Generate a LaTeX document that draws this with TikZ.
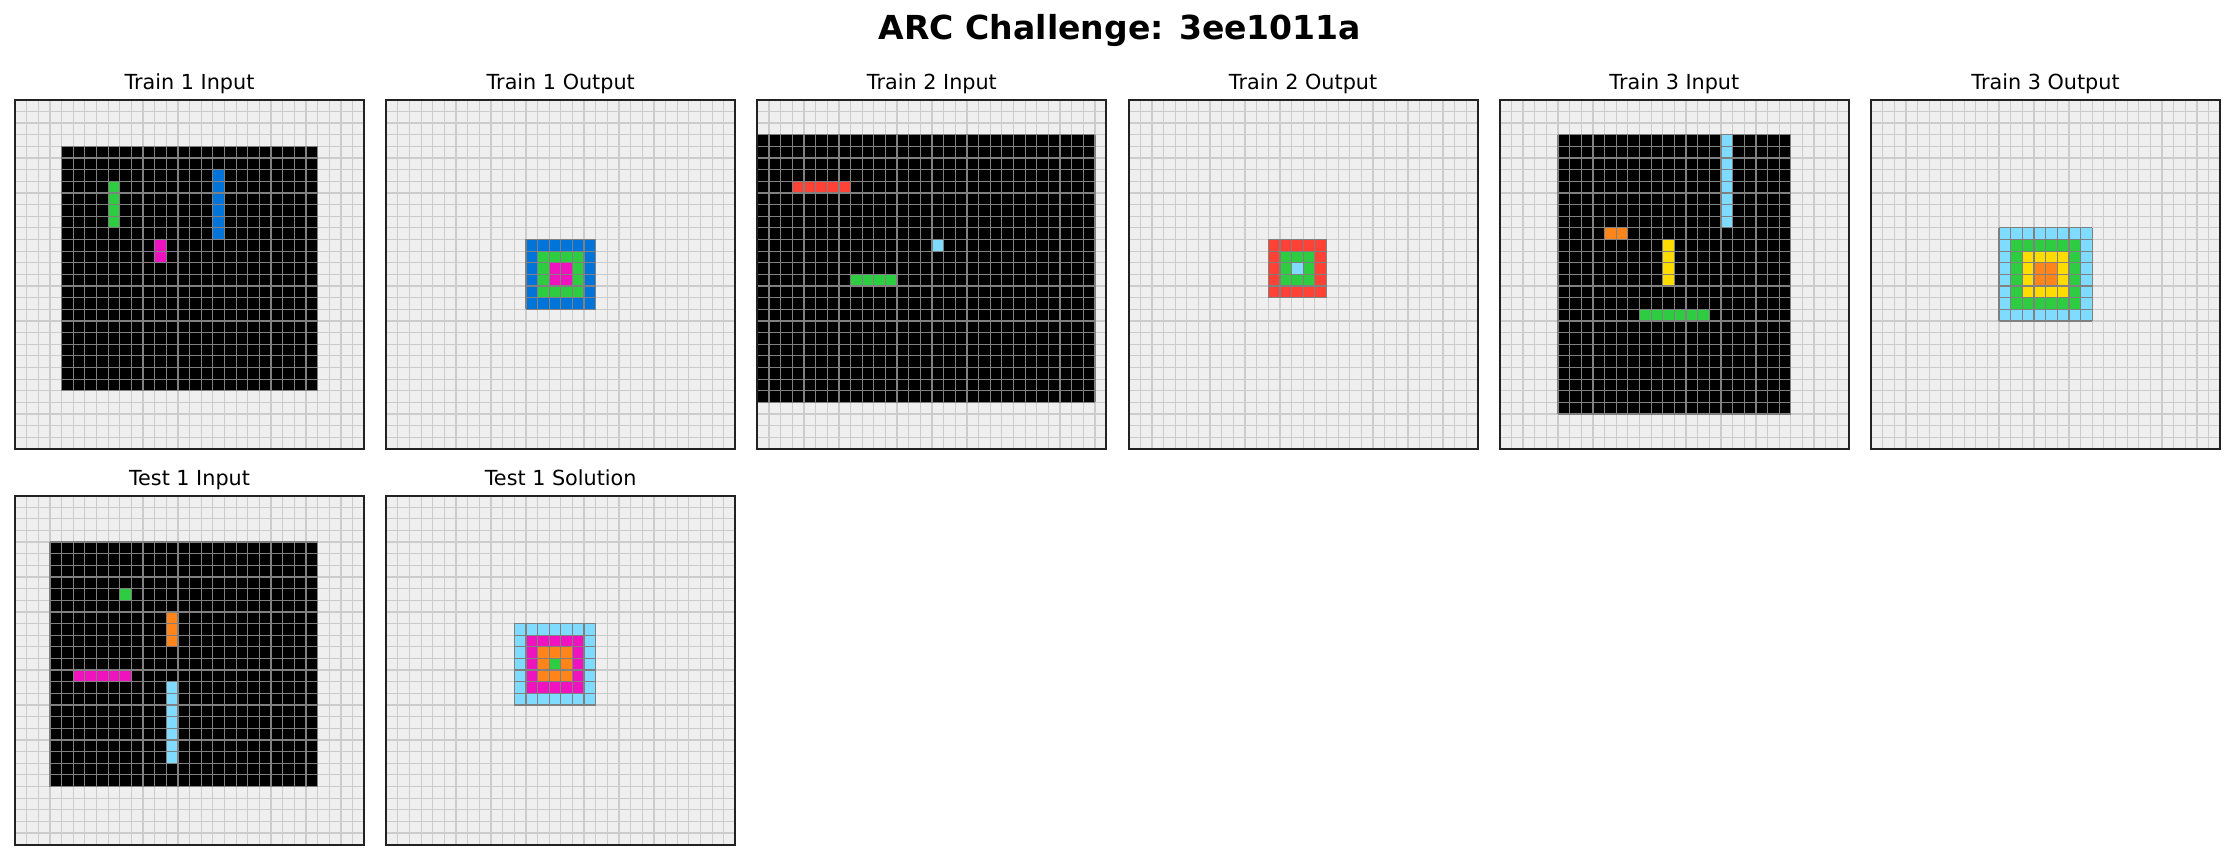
\documentclass[tikz,border=0pt]{standalone}
\usepackage{fontspec}
\setmainfont{DejaVu Sans}
\usepackage{xcolor}
\usepackage{tikz}
\usetikzlibrary{positioning}
\definecolor{arcblue}{HTML}{0074D9}
\definecolor{arcred}{HTML}{FF4136}
\definecolor{arcgreen}{HTML}{2ECC40}
\definecolor{arcyellow}{HTML}{FFDC00}
\definecolor{arcmagenta}{HTML}{F012BE}
\definecolor{arcorange}{HTML}{FF851B}
\definecolor{arccyan}{HTML}{7FDBFF}
\definecolor{padgray}{HTML}{EFEFEF}
\definecolor{gridlight}{HTML}{CCCCCC}
\definecolor{gridgray}{HTML}{808080}
\definecolor{framegray}{HTML}{222222}

\begin{document}
\begin{tikzpicture}[
  x=0.01cm,
  y=0.01cm,
  board/.style={x=0.11633cm, y=0.11633cm},
  padcell/.style={fill=padgray},
  padline/.style={draw=gridlight, line width=0.35pt, step=1},
  cellline/.style={draw=gridgray, line width=0.35pt, step=1},
  boardframe/.style={draw=framegray, line width=0.6pt},
  panellabel/.style={font=\fontsize{5.9}{7}\selectfont, anchor=base},
  figtitle/.style={font=\fontsize{9.4}{11}\selectfont\bfseries, anchor=base}
]
\useasboundingbox (0,0) rectangle (2234,860);

\node[figtitle] (title) at (1120,820) {ARC Challenge: 3ee1011a};

% empty 30x30 boards
\foreach \px/\py in {15/411,386.2/411,757.4/411,1128.6/411,1499.8/411,1871/411,15/15.3,386.2/15.3} {
  \begin{scope}[shift={(\px,\py)}, board]
    \path[padcell] (0,0) rectangle (30,30);
    \draw[padline] (0,0) grid (30,30);
  \end{scope}
}

% Train 1 Input
\begin{scope}[shift={(15,411)}, board]
  \path[fill=black] (4,5) rectangle (26,26);
  \path[fill=arcgreen] (8,19) rectangle (9,23);
  \path[fill=arcblue] (17,18) rectangle (18,24);
  \path[fill=arcmagenta] (12,16) rectangle (13,18);
  \draw[cellline] (4,5) grid (26,26);
\end{scope}

% Train 1 Output
\begin{scope}[shift={(386.2,411)}, board]
  \path[fill=arcblue] (12,12) rectangle (18,18);
  \path[fill=arcgreen] (13,13) rectangle (17,17);
  \path[fill=arcmagenta] (14,14) rectangle (16,16);
  \draw[cellline] (12,12) grid (18,18);
\end{scope}

% Train 2 Input
\begin{scope}[shift={(757.4,411)}, board]
  \path[fill=black] (0,4) rectangle (29,27);
  \path[fill=arcred] (3,22) rectangle (8,23);
  \path[fill=arccyan] (15,17) rectangle (16,18);
  \path[fill=arcgreen] (8,14) rectangle (12,15);
  \draw[cellline] (0,4) grid (29,27);
\end{scope}

% Train 2 Output
\begin{scope}[shift={(1128.6,411)}, board]
  \path[fill=arcred] (12,13) rectangle (17,18);
  \path[fill=arcgreen] (13,14) rectangle (16,17);
  \path[fill=arccyan] (14,15) rectangle (15,16);
  \draw[cellline] (12,13) grid (17,18);
\end{scope}

% Train 3 Input
\begin{scope}[shift={(1499.8,411)}, board]
  \path[fill=black] (5,3) rectangle (25,27);
  \path[fill=arccyan] (19,19) rectangle (20,27);
  \path[fill=arcorange] (9,18) rectangle (11,19);
  \path[fill=arcyellow] (14,14) rectangle (15,18);
  \path[fill=arcgreen] (12,11) rectangle (18,12);
  \draw[cellline] (5,3) grid (25,27);
\end{scope}

% Train 3 Output
\begin{scope}[shift={(1871,411)}, board]
  \path[fill=arccyan] (11,11) rectangle (19,19);
  \path[fill=arcgreen] (12,12) rectangle (18,18);
  \path[fill=arcyellow] (13,13) rectangle (17,17);
  \path[fill=arcorange] (14,14) rectangle (16,16);
  \draw[cellline] (11,11) grid (19,19);
\end{scope}

% Test 1 Input
\begin{scope}[shift={(15,15.3)}, board]
  \path[fill=black] (3,5) rectangle (26,26);
  \path[fill=arcgreen] (9,21) rectangle (10,22);
  \path[fill=arcorange] (13,17) rectangle (14,20);
  \path[fill=arcmagenta] (5,14) rectangle (10,15);
  \path[fill=arccyan] (13,7) rectangle (14,14);
  \draw[cellline] (3,5) grid (26,26);
\end{scope}

% Test 1 Solution
\begin{scope}[shift={(386.2,15.3)}, board]
  \path[fill=arccyan] (11,12) rectangle (18,19);
  \path[fill=arcmagenta] (12,13) rectangle (17,18);
  \path[fill=arcorange] (13,14) rectangle (16,17);
  \path[fill=arcgreen] (14,15) rectangle (15,16);
  \draw[cellline] (11,12) grid (18,19);
\end{scope}

% frames and panel titles
\foreach \px/\py/\name/\lab in {15/411/t1in/Train 1 Input,386.2/411/t1out/Train 1 Output,757.4/411/t2in/Train 2 Input,1128.6/411/t2out/Train 2 Output,1499.8/411/t3in/Train 3 Input,1871/411/t3out/Train 3 Output,15/15.3/x1in/Test 1 Input,386.2/15.3/x1sol/Test 1 Solution} {
  \draw[boardframe] (\px,\py) rectangle ++(349,349);
  \node[panellabel] (\name) at ({\px+174.5},{\py+359}) {\lab};
}
\end{tikzpicture}
\end{document}
